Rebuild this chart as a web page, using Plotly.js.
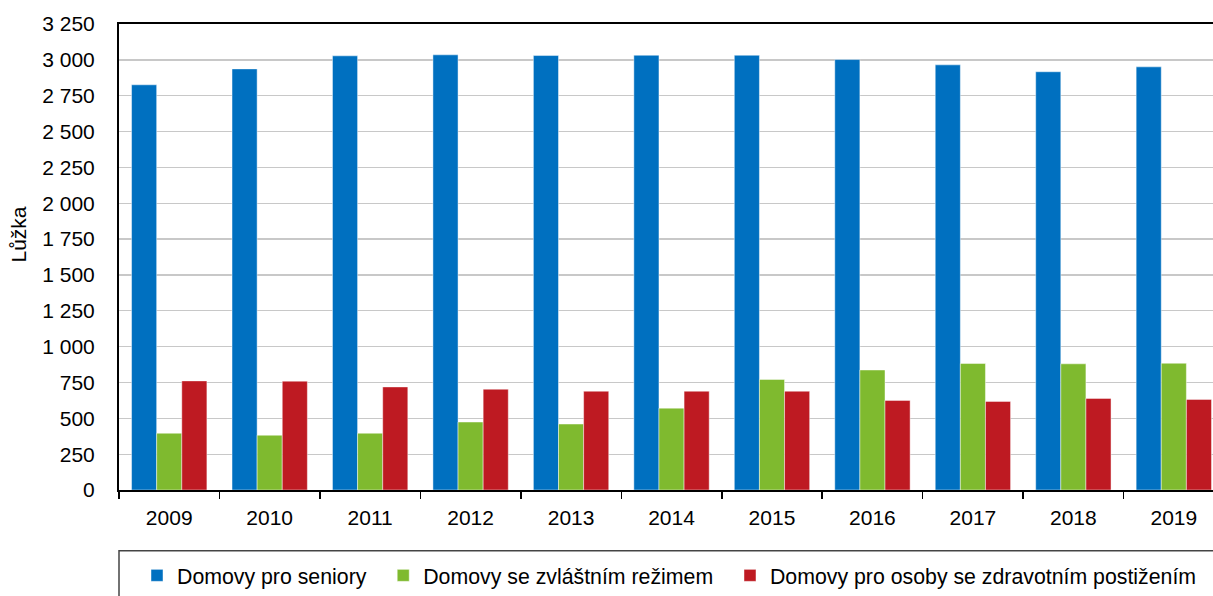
<!DOCTYPE html>
<html>
<head>
<meta charset="utf-8">
<script src="https://cdn.plot.ly/plotly-3.0.1.min.js"></script>
<style>
  html, body { margin: 0; padding: 0; background: #fff; }
  #chart { width: 1213px; height: 596px; }
</style>
</head>
<body>
<div id="chart"></div>
<script>
// roky a počty lůžek
const years = ['2009', '2010', '2011', '2012', '2013', '2014', '2015', '2016', '2017', '2018', '2019'];
const seniory = [2826, 2937, 3028, 3035, 3030, 3032, 3032, 3002, 2965, 2917, 2951];
const zvlastniRezim = [396, 382, 396, 474, 460, 571, 771, 837, 882, 880, 884];
const postizeni = [761, 759, 719, 703, 689, 689, 689, 625, 618, 639, 632];

const names = ['Domovy pro seniory', 'Domovy se zvláštním režimem', 'Domovy pro osoby se zdravotním postižením'];
const colors = ['#0070C0', '#7FBA2F', '#BE1A22'];

const font = { family: 'Liberation Sans, Arial, sans-serif', size: 21, color: '#000' };

// nbsp na konci = větší mezera mezi položkami legendy
const pad = '\u00a0\u00a0';

const traces = [seniory, zvlastniRezim, postizeni].map((vals, i) => ({
  type: 'bar',
  x: years,
  y: vals,
  name: i < 2 ? names[i] + pad : names[i],
  marker: { color: colors[i], line: { color: 'rgba(255,255,255,0.45)', width: 1 } },
  hoverinfo: 'x+y+name'
}));

const layout = {
  width: 1213,
  height: 596,
  margin: { l: 119, r: 0, t: 24, b: 105 },
  paper_bgcolor: '#fff',
  plot_bgcolor: '#fff',
  font: font,
  separators: ', ',
  barmode: 'group',
  bargap: 0.25,
  bargroupgap: 0,
  xaxis: {
    type: 'category',
    range: [-0.5, 10.39],
    showline: true,
    linecolor: '#000',
    linewidth: 2,
    mirror: true,
    ticks: 'outside',
    tickson: 'boundaries',
    ticklen: 7,
    tickwidth: 1.5,
    tickcolor: '#000',
    showgrid: false,
    ticklabelstandoff: 8,
    tickfont: font
  },
  yaxis: {
    range: [0, 3250],
    dtick: 250,
    tick0: 0,
    tickformat: ',d',
    showline: true,
    linecolor: '#000',
    linewidth: 2,
    ticks: '',
    showgrid: true,
    gridcolor: '#c8c8c8',
    gridwidth: 1.3,
    zeroline: false,
    ticklabelstandoff: 18,
    tickfont: font
  },
  // popisek osy y je posunutý nahoru jako v originále
  annotations: [{
    text: 'Lůžka',
    xref: 'paper', yref: 'paper',
    x: (19 - 119) / 1094, y: (491 - 235) / 467,
    xanchor: 'center', yanchor: 'middle',
    textangle: -90,
    showarrow: false,
    font: { family: font.family, size: 21, color: '#000' }
  }],
  legend: {
    orientation: 'h',
    x: 18 / 1094,
    xanchor: 'left',
    y: -0.184,
    yanchor: 'middle',
    font: { family: font.family, size: 21.3, color: '#000' },
    borderwidth: 0,
    bgcolor: 'rgba(0,0,0,0)',
    traceorder: 'normal'
  },
  shapes: [{
    type: 'rect',
    xref: 'paper', yref: 'paper',
    x0: 0, x1: 1.05,
    y0: -0.1306, y1: -0.3,
    line: { color: '#444', width: 1.5 },
    fillcolor: 'rgba(0,0,0,0)',
    layer: 'below'
  }],
  showlegend: true
};

Plotly.newPlot('chart', traces, layout, { displayModeBar: false, staticPlot: true });
</script>
</body>
</html>
